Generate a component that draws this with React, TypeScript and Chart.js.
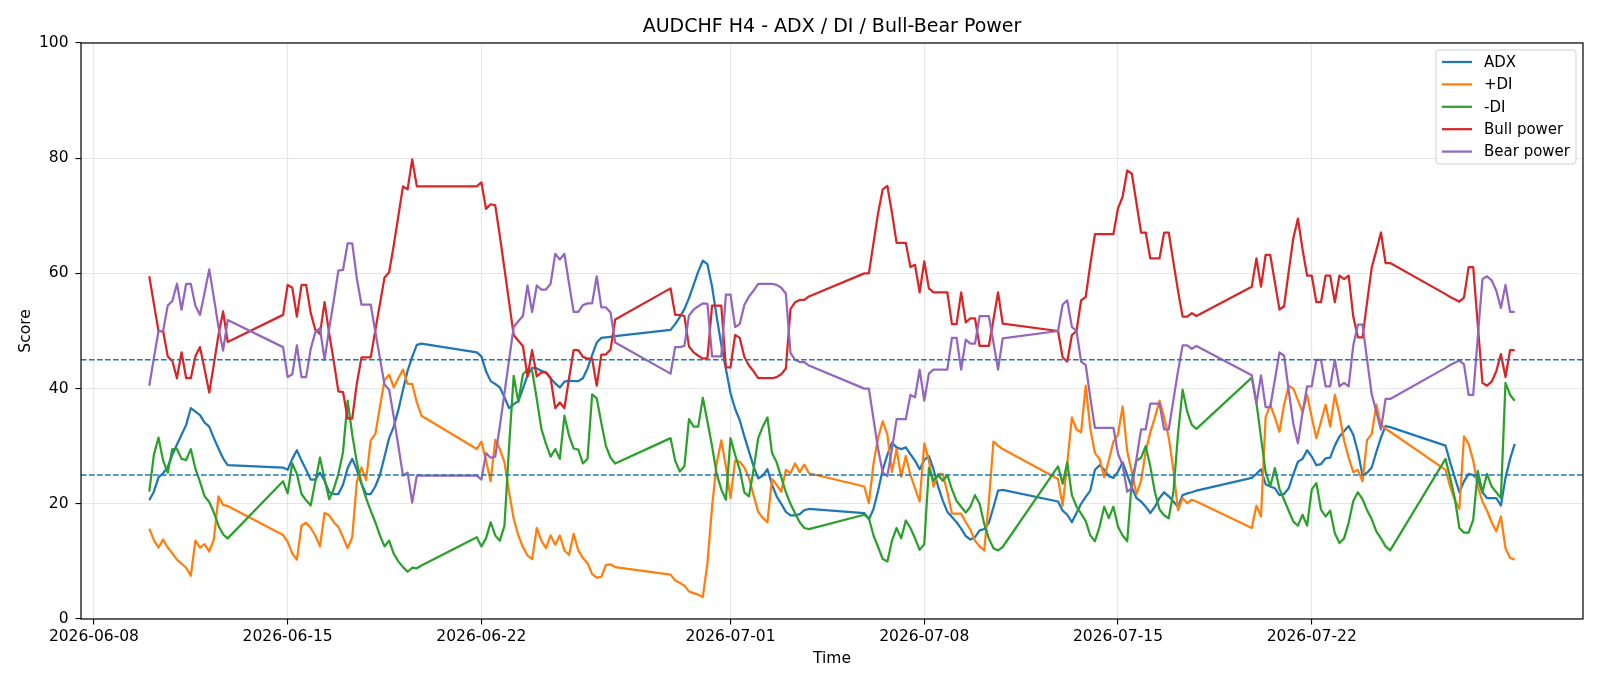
import React, { useEffect, useRef } from "react";
import { Chart, registerables } from "chart.js";

Chart.register(...registerables);

// ---- chart content ----
const TITLE = "AUDCHF H4 - ADX / DI / Bull-Bear Power";
const X_LABEL = "Time";
const Y_LABEL = "Score";

// H4 bars: Sunday 20:00 open, then Monday..Friday every 4 hours
const FIRST_BAR = "2026-06-10T00:00:00Z";
const LAST_BAR = "2026-07-29T08:00:00Z";
const AXIS_ORIGIN = "2026-06-08T00:00:00Z";

const tickDates = ["2026-06-08", "2026-06-15", "2026-06-22", "2026-07-01", "2026-07-08", "2026-07-15", "2026-07-22"];
const yTicks = [0, 20, 40, 60, 80, 100];
const thresholdLevels = [25, 45];

const seriesNames = ["ADX", "+DI", "-DI", "Bull power", "Bear power"];
const seriesColors = ["#1f77b4", "#ff7f0e", "#2ca02c", "#d62728", "#9467bd"];

const adx = [
  // 06-10 .. 06-12
  20.6, 22.1, 24.6, 25.3, 26.4, 28.5, 30.3, 32.0, 33.7, 36.6, 36.0, 35.4, 34.1, 33.4, 31.4, 29.6, 27.9, 26.7,
  // 06-14 20:00, 06-15 .. 06-19
  26.3,
  25.9, 27.8, 29.3, 27.5, 25.9, 24.2, 24.2, 25.4, 24.0, 22.0, 21.7, 21.7, 23.3, 26.2, 27.8,
  25.9, 23.5, 21.7, 21.7, 23.0, 25.0, 28.2, 31.4, 33.4, 36.3, 39.8, 43.1, 45.5, 47.6, 47.8,
  // 06-21 20:00, 06-22 .. 06-26
  46.3,
  45.6, 43.0, 41.3, 40.8, 40.2, 38.5, 36.6, 37.3, 37.8, 40.0, 42.3, 43.6, 43.5, 43.1, 42.8,
  41.8, 40.9, 40.2, 41.2, 41.4, 41.3, 41.3, 41.8, 43.5, 45.8, 48.0, 48.8, 48.9, 49.0, 49.1,
  // 06-28 20:00, 06-29 .. 07-03
  50.2,
  51.2, 52.4, 53.8, 55.7, 58.0, 60.3, 62.2, 61.6, 57.7, 52.5, 47.6, 43.4, 39.2, 36.5, 34.5,
  31.7, 29.1, 26.5, 24.4, 24.9, 26.0, 23.3, 21.3, 20.0, 18.6, 18.0, 18.0, 18.2, 18.9, 19.1,
  // 07-05 20:00, 07-06 .. 07-10
  18.4,
  17.3, 19.1, 22.3, 25.9, 28.5, 30.6, 29.8, 29.5, 29.8, 28.6, 27.5, 26.0, 27.6, 28.3, 26.0,
  23.0, 20.6, 18.6, 17.7, 16.8, 15.7, 14.4, 13.8, 14.2, 15.4, 15.6, 16.7, 19.4, 22.3, 22.4,
  // 07-12 20:00, 07-13 .. 07-17
  20.4,
  18.8, 18.1, 16.8, 18.4, 20.0, 21.2, 22.3, 25.9, 26.7, 25.9, 24.8, 24.5, 25.6, 27.2, 25.0,
  22.8, 21.0, 20.4, 19.5, 18.4, 19.5, 21.0, 22.0, 21.3, 20.4, 19.5, 21.5, 21.8, 22.0, 22.3,
  // 07-19 20:00, 07-20 .. 07-24
  24.5,
  25.2, 26.0, 23.4, 23.0, 22.7, 21.5, 21.7, 22.7, 25.1, 27.3, 27.8, 29.3, 28.2, 26.7, 26.9,
  27.9, 28.0, 30.1, 31.7, 32.6, 33.5, 32.0, 29.0, 25.0, 25.4, 26.3, 29.0, 31.5, 33.5, 33.3,
  // 07-26 20:00, 07-27 .. 07-29 08:00
  30.1,
  27.2, 24.6, 22.0, 23.9, 25.2, 25.0, 24.2, 22.0, 21.0, 21.0, 21.0, 19.7, 24.5, 27.8, 30.4,
];

const plusDI = [
  15.7, 13.7, 12.4, 13.8, 12.4, 11.4, 10.3, 9.6, 8.9, 7.5, 13.6, 12.4, 13.0, 11.7, 13.8, 21.3, 19.8, 19.6,
  14.6,
  13.4, 11.4, 10.3, 16.2, 16.7, 15.8, 14.5, 12.6, 18.4, 18.0, 16.8, 16.0, 14.2, 12.3, 14.2,
  23.9, 26.3, 24.1, 31.0, 32.1, 36.8, 41.5, 42.4, 40.2, 41.8, 43.3, 40.8, 40.8, 37.6, 35.3,
  29.5,
  30.8, 27.5, 23.9, 31.1, 29.5, 27.2, 22.0, 17.4, 14.5, 12.5, 11.0, 10.4, 15.8, 13.6, 12.3,
  14.5, 12.9, 14.5, 11.9, 11.1, 14.8, 11.9, 10.6, 9.7, 7.8, 7.2, 7.3, 9.4, 9.5, 9.0,
  7.7,
  6.7, 6.3, 5.8, 4.8, 4.5, 4.2, 3.8, 9.7, 19.5, 27.0, 31.0, 26.5, 21.0, 27.5, 27.3,
  26.3, 24.5, 21.5, 18.6, 17.5, 16.8, 24.3, 23.3, 22.1, 25.9, 25.3, 27.0, 25.5, 26.8, 25.3,
  23.0,
  20.1, 27.0, 31.5, 34.3, 32.0, 25.5, 29.5, 24.7, 28.3, 25.0, 22.7, 20.4, 30.5, 27.5, 23.0,
  25.2, 25.2, 22.0, 18.3, 18.3, 18.3, 16.8, 15.5, 13.6, 12.6, 11.9, 20.4, 30.8, 30.1, 29.5,
  24.3,
  19.7, 27.0, 35.0, 32.9, 32.4, 40.5, 33.0, 28.8, 27.8, 24.6, 27.5, 30.8, 32.0, 36.9, 29.1,
  25.5, 21.7, 24.0, 29.1, 32.4, 35.0, 37.9, 35.0, 31.5, 25.9, 18.9, 21.0, 20.1, 20.7, 20.4,
  15.8,
  19.7, 17.8, 35.0, 37.2, 35.0, 32.5, 37.2, 40.5, 40.0, 38.0, 35.9, 38.9, 35.0, 31.4, 34.3,
  37.2, 33.4, 38.9, 35.5, 31.0, 28.0, 25.5, 25.9, 23.9, 31.1, 32.1, 37.2, 33.7, 33.0, 32.5,
  25.9,
  23.0, 20.7, 19.1, 31.7, 30.4, 27.5, 23.0, 20.4, 18.8, 16.8, 15.2, 17.8, 12.3, 10.6, 10.3,
];

const minusDI = [
  22.1, 28.5, 31.5, 27.5, 25.4, 29.5, 29.5, 27.8, 27.6, 29.5, 26.1, 23.8, 21.3, 20.3, 18.5, 16.2, 14.7, 14.0,
  23.9,
  21.8, 27.0, 25.2, 21.7, 20.6, 19.7, 23.9, 28.0, 24.3, 20.8, 22.6, 25.2, 29.0, 37.9, 32.0,
  27.2, 23.5, 21.0, 18.8, 16.8, 14.5, 12.6, 13.6, 11.3, 10.0, 9.0, 8.2, 8.9, 8.8, 9.3,
  14.2,
  12.6, 14.0, 16.8, 14.5, 13.6, 16.2, 30.0, 42.2, 37.7, 42.5, 43.3, 43.1, 38.2, 33.0, 30.4,
  28.2, 29.5, 27.8, 35.3, 31.8, 29.6, 29.4, 27.0, 27.8, 39.0, 38.3, 34.0, 30.0, 28.0, 27.0,
  31.4,
  27.5, 25.6, 26.5, 34.7, 33.4, 33.4, 38.4, 34.3, 30.0, 25.2, 22.5, 20.7, 31.4, 28.5, 25.9,
  22.0, 21.3, 25.9, 31.4, 33.4, 35.0, 28.8, 27.2, 24.6, 22.0, 20.0, 18.3, 16.8, 15.8, 15.6,
  18.1,
  17.5, 14.5, 12.5, 10.4, 10.0, 13.6, 15.8, 14.0, 17.1, 15.8, 14.0, 12.0, 13.0, 26.2, 24.0,
  25.0, 24.0, 25.0, 22.5, 20.5, 19.5, 18.5, 19.5, 21.5, 20.0, 16.5, 14.0, 12.3, 11.9, 12.5,
  26.5,
  23.5, 27.2, 21.5, 19.5, 18.3, 17.0, 14.5, 13.5, 16.0, 19.5, 17.5, 19.5, 16.0, 14.5, 13.5,
  24.0, 27.5, 28.0, 30.0, 26.5, 22.0, 19.0, 18.0, 17.5, 22.0, 32.0, 39.8, 36.0, 33.7, 33.0,
  41.9,
  37.6, 31.5, 25.5, 23.0, 26.2, 22.6, 20.7, 18.8, 16.9, 16.2, 18.1, 16.2, 22.5, 23.6, 19.0,
  17.8, 18.8, 14.9, 13.2, 14.0, 16.7, 20.5, 22.0, 20.8, 18.9, 17.3, 15.2, 14.0, 12.6, 11.9,
  27.8,
  24.5, 21.0, 15.8, 15.0, 15.0, 17.2, 25.7, 22.0, 25.2, 23.0, 22.0, 21.0, 41.0, 38.9, 37.9,
];

const bullPower = [
  59.5, 54.7, 50.0, 50.0, 45.6, 44.8, 41.8, 46.3, 41.8, 41.8, 45.6, 47.2, 43.3, 39.3, 44.2, 49.3, 53.4, 48.1,
  52.8,
  58.0, 57.5, 52.5, 58.0, 58.0, 53.1, 50.2, 49.5, 55.0, 49.6, 44.7, 39.5, 39.4, 34.8, 34.8,
  40.9, 45.4, 45.4, 45.4, 50.1, 54.7, 59.3, 60.2, 64.9, 70.0, 75.1, 74.6, 79.8, 75.1, 75.1,
  75.1,
  75.8, 71.2, 72.0, 71.8, 66.5, 60.8, 55.0, 49.3, 48.3, 47.4, 42.1, 46.7, 42.1, 42.8, 42.8,
  41.8, 36.6, 37.6, 36.6, 41.8, 46.7, 46.7, 45.5, 45.2, 45.2, 40.5, 45.9, 45.9, 46.8, 52.0,
  57.4,
  52.8, 52.8, 52.6, 47.3, 46.3, 45.7, 45.2, 45.3, 54.4, 54.4, 54.4, 43.7, 43.7, 49.3, 48.8,
  45.5, 44.0, 43.0, 41.8, 41.8, 41.8, 41.8, 42.0, 42.5, 43.5, 53.8, 55.0, 55.4, 55.4, 56.0,
  60.0,
  60.0, 65.3, 70.5, 74.6, 75.2, 70.5, 65.3, 65.3, 65.3, 61.1, 61.5, 56.7, 62.1, 57.4, 56.7,
  56.7, 56.7, 56.7, 51.2, 51.2, 56.7, 51.5, 52.2, 52.2, 47.4, 47.4, 47.4, 52.0, 56.7, 51.3,
  50.0,
  45.4, 44.7, 49.3, 50.0, 55.3, 55.9, 61.6, 66.8, 66.8, 66.8, 66.8, 66.8, 71.3, 73.3, 77.9,
  77.3, 72.2, 67.1, 67.1, 62.6, 62.6, 62.6, 67.1, 67.1, 62.0, 57.0, 52.5, 52.5, 53.1, 52.6,
  57.7,
  62.6, 57.7, 63.2, 63.2, 58.5, 53.7, 54.3, 60.3, 66.1, 69.5, 64.2, 59.6, 59.6, 55.0, 55.0,
  59.6, 59.6, 55.0, 59.6, 59.0, 59.6, 52.5, 48.9, 48.9, 55.0, 61.0, 64.0, 67.1, 61.8, 61.8,
  56.4,
  55.9, 55.5, 55.1, 55.8, 61.1, 61.1, 51.0, 41.0, 40.5, 41.2, 43.0, 46.0, 42.0, 46.7, 46.7,
];

const bearPower = [
  40.5, 45.3, 50.0, 50.0, 54.4, 55.2, 58.2, 53.7, 58.2, 58.2, 54.4, 52.8, 56.7, 60.7, 55.8, 50.7, 46.6, 51.9,
  47.2,
  42.0, 42.5, 47.5, 42.0, 42.0, 46.9, 49.8, 50.5, 45.0, 50.4, 55.3, 60.5, 60.6, 65.2, 65.2,
  59.1, 54.6, 54.6, 54.6, 49.9, 45.3, 40.7, 39.8, 35.1, 30.0, 24.9, 25.4, 20.2, 24.9, 24.9,
  24.9,
  24.2, 28.8, 28.0, 28.2, 33.5, 39.2, 45.0, 50.7, 51.7, 52.6, 57.9, 53.3, 57.9, 57.2, 57.2,
  58.2, 63.4, 62.4, 63.4, 58.2, 53.3, 53.3, 54.5, 54.8, 54.8, 59.5, 54.1, 54.1, 53.2, 48.0,
  42.6,
  47.2, 47.2, 47.4, 52.7, 53.7, 54.3, 54.8, 54.7, 45.6, 45.6, 45.6, 56.3, 56.3, 50.7, 51.2,
  54.5, 56.0, 57.0, 58.2, 58.2, 58.2, 58.2, 58.0, 57.5, 56.5, 46.2, 45.0, 44.6, 44.6, 44.0,
  40.0,
  40.0, 34.7, 29.5, 25.4, 24.8, 29.5, 34.7, 34.7, 34.7, 38.9, 38.5, 43.3, 37.9, 42.6, 43.3,
  43.3, 43.3, 43.3, 48.8, 48.8, 43.3, 48.5, 47.8, 47.8, 52.6, 52.6, 52.6, 48.0, 43.3, 48.7,
  50.0,
  54.6, 55.3, 50.7, 50.0, 44.7, 44.1, 38.4, 33.2, 33.2, 33.2, 33.2, 33.2, 28.7, 26.7, 22.1,
  22.7, 27.8, 32.9, 32.9, 37.4, 37.4, 37.4, 32.9, 32.9, 38.0, 43.0, 47.5, 47.5, 46.9, 47.4,
  42.3,
  37.4, 42.3, 36.8, 36.8, 41.5, 46.3, 45.7, 39.7, 33.9, 30.5, 35.8, 40.4, 40.4, 45.0, 45.0,
  40.4, 40.4, 45.0, 40.4, 41.0, 40.4, 47.5, 51.1, 51.1, 45.0, 39.0, 36.0, 32.9, 38.2, 38.2,
  43.6,
  44.1, 44.5, 44.9, 44.2, 38.9, 38.9, 49.0, 59.0, 59.5, 58.8, 57.0, 54.0, 58.0, 53.3, 53.3,
];

const seriesValues = [adx, plusDI, minusDI, bullPower, bearPower];

// ---- helpers ----
const DAY = 86400000;
const originMs = Date.parse(AXIS_ORIGIN);

// Bar times as day offsets from the axis origin (forex session calendar)
function sessionBars(): number[] {
  const out: number[] = [];
  const end = Date.parse(LAST_BAR);
  for (let t = Date.parse(FIRST_BAR); t <= end; t += 4 * 3600000) {
    const d = new Date(t);
    const wd = d.getUTCDay();
    const h = d.getUTCHours();
    if ((wd >= 1 && wd <= 5) || (wd === 0 && h === 20)) out.push((t - originMs) / DAY);
  }
  return out;
}

const FONT = "'DejaVu Sans', 'Liberation Sans', sans-serif";
const LINE_W = 2.25;
const TICK_FONT = 15.5;

export default function App() {
  const canvasRef = useRef<HTMLCanvasElement | null>(null);

  useEffect(() => {
    const canvas = canvasRef.current;
    if (!canvas) return;

    const xs = sessionBars();
    const n = Math.min(xs.length, ...seriesValues.map((s) => s.length));
    const span = xs[n - 1] - xs[0];
    const xMin = xs[0] - 0.05 * span;
    const xMax = xs[n - 1] + 0.05 * span;

    const tickValues = tickDates.map((d) => (Date.parse(d + "T00:00:00Z") - originMs) / DAY);

    const lineSets = seriesValues.map((vals, i) => ({
      label: seriesNames[i],
      data: vals.slice(0, n).map((v, k) => ({ x: xs[k], y: v })),
      borderColor: seriesColors[i],
      backgroundColor: seriesColors[i],
      borderWidth: LINE_W,
      pointRadius: 0,
      tension: 0,
      fill: false,
      borderJoinStyle: "round" as const,
      order: 10 - i,
    }));

    const levelSets = thresholdLevels.map((lv, i) => ({
      label: "level " + lv,
      data: [
        { x: xMin, y: lv },
        { x: xMax, y: lv },
      ],
      borderColor: "#1f77b4",
      borderWidth: 1.5,
      borderDash: [5.6, 2.4],
      pointRadius: 0,
      fill: false,
      order: 1 + i,
    }));

    const decor = {
      id: "decor",
      beforeDraw(chart: any) {
        const { ctx } = chart;
        ctx.save();
        ctx.fillStyle = "#ffffff";
        ctx.fillRect(0, 0, chart.width, chart.height);
        ctx.restore();
      },
      afterDraw(chart: any) {
        const { ctx, chartArea: a } = chart;
        ctx.save();
        // frame
        ctx.strokeStyle = "#000000";
        ctx.lineWidth = 1.2;
        ctx.strokeRect(a.left, a.top, a.right - a.left, a.bottom - a.top);

        // title
        ctx.fillStyle = "#000000";
        ctx.font = `19px ${FONT}`;
        ctx.textAlign = "center";
        ctx.textBaseline = "alphabetic";
        ctx.fillText(TITLE, (a.left + a.right) / 2, 32);

        // axis labels
        ctx.font = `${TICK_FONT}px ${FONT}`;
        ctx.fillText(X_LABEL, (a.left + a.right) / 2, 663);
        ctx.save();
        ctx.translate(30, (a.top + a.bottom) / 2);
        ctx.rotate(-Math.PI / 2);
        ctx.textBaseline = "alphabetic";
        ctx.fillText(Y_LABEL, 0, 0);
        ctx.restore();

        // legend
        const fs = 15;
        ctx.font = `${fs}px ${FONT}`;
        const textW = Math.max(...seriesNames.map((s) => ctx.measureText(s).width));
        const pad = 0.4 * fs;
        const handle = 2 * fs;
        const gap = 0.8 * fs;
        const rowH = 22.4;
        const boxW = pad + handle + gap + textW + pad;
        const boxH = 114;
        const boxR = a.right - 7;
        const boxT = a.top + 7;
        const boxL = boxR - boxW;
        ctx.beginPath();
        const r = 3;
        ctx.moveTo(boxL + r, boxT);
        ctx.lineTo(boxR - r, boxT);
        ctx.quadraticCurveTo(boxR, boxT, boxR, boxT + r);
        ctx.lineTo(boxR, boxT + boxH - r);
        ctx.quadraticCurveTo(boxR, boxT + boxH, boxR - r, boxT + boxH);
        ctx.lineTo(boxL + r, boxT + boxH);
        ctx.quadraticCurveTo(boxL, boxT + boxH, boxL, boxT + boxH - r);
        ctx.lineTo(boxL, boxT + r);
        ctx.quadraticCurveTo(boxL, boxT, boxL + r, boxT);
        ctx.closePath();
        ctx.fillStyle = "rgba(255,255,255,0.8)";
        ctx.fill();
        ctx.strokeStyle = "#d0d0d0";
        ctx.lineWidth = 1;
        ctx.stroke();
        ctx.textAlign = "left";
        ctx.textBaseline = "middle";
        seriesNames.forEach((name, i) => {
          const cy = boxT + 12 + rowH * i;
          ctx.strokeStyle = seriesColors[i];
          ctx.lineWidth = LINE_W;
          ctx.beginPath();
          ctx.moveTo(boxL + pad, cy);
          ctx.lineTo(boxL + pad + handle, cy);
          ctx.stroke();
          ctx.fillStyle = "#000000";
          ctx.fillText(name, boxL + pad + handle + gap, cy + 1);
        });
        ctx.restore();
      },
    };

    const chart = new Chart(canvas, {
      type: "line",
      data: { datasets: [...lineSets, ...levelSets] as any },
      options: {
        animation: false,
        responsive: false,
        devicePixelRatio: 1,
        events: [],
        layout: { padding: { left: 0, right: 17, top: 43, bottom: 0 } },
        plugins: {
          legend: { display: false },
          title: { display: false },
          tooltip: { enabled: false },
        },
        scales: {
          x: {
            type: "linear",
            min: xMin,
            max: xMax,
            afterBuildTicks: (scale: any) => {
              scale.ticks = tickValues.map((v) => ({ value: v }));
            },
            afterFit: (scale: any) => {
              scale.height = 67;
            },
            ticks: {
              autoSkip: false,
              maxRotation: 0,
              minRotation: 0,
              padding: 3,
              color: "#000000",
              font: { family: FONT, size: TICK_FONT },
              callback: (v: any) => {
                const idx = tickValues.findIndex((t) => Math.abs(t - Number(v)) < 1e-6);
                return idx >= 0 ? tickDates[idx] : "";
              },
            },
            grid: {
              color: "#e6e6e6",
              lineWidth: 1.1,
              tickLength: 5.5,
              tickColor: "#000000",
              tickWidth: 1.1,
            },
            border: { display: false },
          },
          y: {
            min: 0,
            max: 100,
            afterBuildTicks: (scale: any) => {
              scale.ticks = yTicks.map((v) => ({ value: v }));
            },
            afterFit: (scale: any) => {
              scale.width = 81;
            },
            ticks: {
              padding: 7,
              color: "#000000",
              font: { family: FONT, size: TICK_FONT },
            },
            grid: {
              color: "#e6e6e6",
              lineWidth: 1.1,
              tickLength: 5.5,
              tickColor: "#000000",
              tickWidth: 1.1,
            },
            border: { display: false },
          },
        },
      },
      plugins: [decor],
    });

    return () => chart.destroy();
  }, []);

  return (
    <div style={{ position: "fixed", left: 0, top: 0, width: 1600, height: 686, background: "#ffffff" }}>
      <canvas ref={canvasRef} width={1600} height={686} style={{ display: "block", width: 1600, height: 686 }} />
    </div>
  );
}
